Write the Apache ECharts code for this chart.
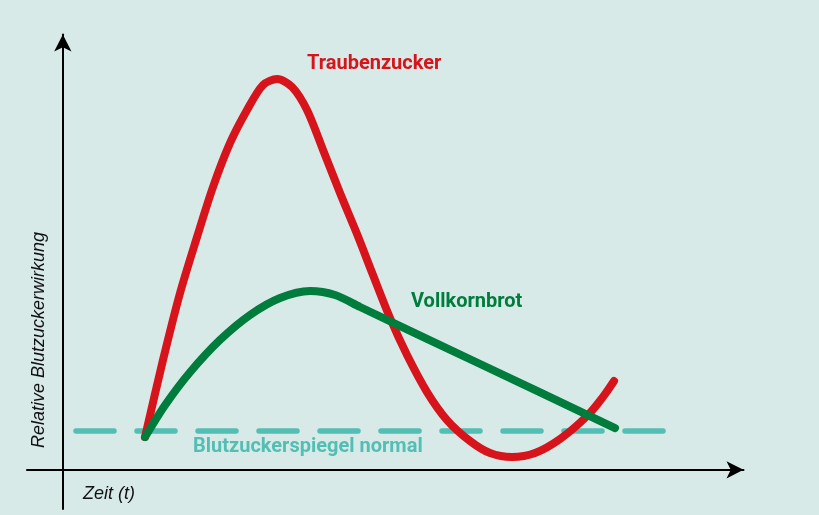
<!DOCTYPE html>
<html>
<head>
<meta charset="utf-8">
<script src="https://cdn.jsdelivr.net/npm/echarts@6/dist/echarts.min.js"></script>
<style>
html,body{margin:0;padding:0;background:#d7eae8;}
#chart{width:819px;height:515px;}
</style>
</head>
<body>
<div id="chart"></div>
<script>
// Time (arbitrary units) and relative blood sugar effect (arbitrary units)
var traubenzuckerX = [11.47, 13.98, 16.36, 18.73, 20.96, 23.34, 25.71, 27.94, 29.90, 32.00, 34.08, 36.32, 38.69, 41.06, 43.29, 45.67, 48.04, 50.83, 53.62, 56.83, 59.62, 62.69, 65.90, 69.40, 73.16, 75.39, 76.93];
var traubenzuckerY = [7.53, 25.22, 40.62, 53.48, 64.97, 75.08, 82.66, 88.40, 89.78, 87.94, 82.66, 73.47, 63.59, 54.17, 44.75, 34.87, 26.37, 17.87, 11.44, 6.62, 3.86, 2.94, 3.86, 7.08, 12.36, 16.75, 20.40];
var vollkornbrotX = [11.47, 14.26, 17.75, 21.94, 26.13, 30.32, 34.51, 38.00, 41.49, 58.24, 77.07];
var vollkornbrotY = [7.53, 14.84, 22.42, 29.84, 35.58, 39.47, 41.08, 40.16, 37.40, 24.31, 9.60];
var normalX = [1.84, 83.8];
var normalY = [8.9, 8.9];
var labels = {
  traubenzucker: 'Traubenzucker',
  vollkornbrot: 'Vollkornbrot',
  normal: 'Blutzuckerspiegel normal',
  xName: 'Zeit (t)',
  yName: 'Relative Blutzuckerwirkung'
};

function pairs(xs, ys){ return xs.map(function(x,i){ return [x, ys[i]]; }); }

var RED = '#d7141b', GREEN = '#007c3c', TEAL = '#52beb4';

var chart = echarts.init(document.getElementById('chart'), null, {renderer:'canvas'});
chart.setOption({
  backgroundColor: '#d7eae8',
  animation: false,
  grid: {left: 27, right: 75.5, top: 34.5, bottom: 6, containLabel: false},
  xAxis: {
    type: 'value', min: -5, max: 95,
    axisLine: {show: true, onZero: true, symbol: ['none','arrow'], symbolSize: [13, 17], lineStyle: {color: '#000', width: 2}},
    axisTick: {show: false}, axisLabel: {show: false}, splitLine: {show: false}
  },
  yAxis: {
    type: 'value', min: -9, max: 100,
    axisLine: {show: true, onZero: true, symbol: ['none','arrow'], symbolSize: [13, 17], lineStyle: {color: '#000', width: 2}},
    axisTick: {show: false}, axisLabel: {show: false}, splitLine: {show: false}
  },
  series: [
    {
      type: 'line', data: pairs(normalX, normalY), showSymbol: false, silent: true,
      lineStyle: {color: TEAL, width: 5.5, type: [38, 23], cap: 'round'}
    },
    {
      type: 'line', data: pairs(traubenzuckerX, traubenzuckerY), smooth: 0.3, showSymbol: false, silent: true,
      lineStyle: {color: RED, width: 8, cap: 'round', join: 'round'}
    },
    {
      type: 'line', data: pairs(vollkornbrotX, vollkornbrotY), smooth: 0.3, showSymbol: false, silent: true,
      lineStyle: {color: GREEN, width: 8, cap: 'round', join: 'round'}
    }
  ],
  graphic: [
    {type: 'text', x: 307, y: 64, style: {text: labels.traubenzucker, fill: RED, font: 'bold 20px Roboto', textAlign: 'left', textVerticalAlign: 'middle'}},
    {type: 'text', x: 411, y: 302, style: {text: labels.vollkornbrot, fill: GREEN, font: 'bold 20px Roboto', textAlign: 'left', textVerticalAlign: 'middle'}},
    {type: 'text', x: 193, y: 447, style: {text: labels.normal, fill: TEAL, font: 'bold 20px Roboto', textAlign: 'left', textVerticalAlign: 'middle'}},
    {type: 'text', x: 83, y: 494, style: {text: labels.xName, fill: '#111', font: 'italic 18px "Liberation Sans", Arial, sans-serif', textAlign: 'left', textVerticalAlign: 'middle'}},
    {type: 'text', x: 39, y: 340, rotation: Math.PI/2, style: {text: labels.yName, fill: '#111', font: 'italic 18px "Liberation Sans", Arial, sans-serif', textAlign: 'center', textVerticalAlign: 'middle'}}
  ]
});
</script>
</body>
</html>
